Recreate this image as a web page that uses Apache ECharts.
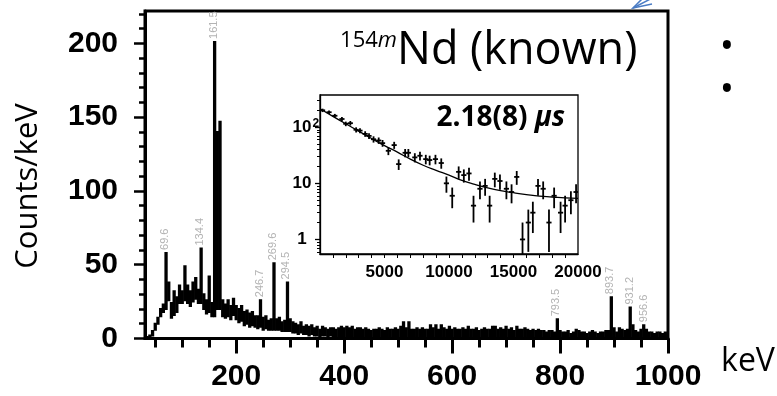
<!DOCTYPE html>
<html><head><meta charset="utf-8">
<script src="https://cdn.jsdelivr.net/npm/echarts@6/dist/echarts.min.js"></script>
<style>html,body{margin:0;padding:0;background:#fff}#c{width:777px;height:396px}</style>
</head><body><div id="c"></div>
<script>
// ---------------- data ----------------
// gamma spectrum, 5 keV bins centred at 30, 35, ... 1000 keV (counts/keV)
const binStart = 30, binWidth = 5;
const spectrumTop = [
  0,1,2,5,10,14,20,23,58,38,
  24,32,28,36,32,49,36,32,38,41,
  33,61,30,26,42,24,201,140,147,26,
  23,26,22,27,22,20,22,18,19,17,
  18,15,15,26,14,15,12,13,51,13,
  14,11,12,38,13,11,10,9,11,8,
  9,8,9,7,8,6,8,7,6,7,
  7,6,7,8,7,8,7,8,6,7,
  7,6,7,6,5,6,6,7,6,5,
  7,6,6,7,6,8,11,7,11,6,
  6,7,6,7,6,6,9,7,9,6,
  9,7,6,8,6,7,6,6,7,6,
  8,6,6,7,5,6,7,6,6,8,
  8,6,7,6,8,6,7,5,8,6,
  6,7,6,5,6,5,6,5,5,4,
  5,5,4,13,5,4,4,5,3,4,
  6,5,4,4,3,4,5,4,3,4,
  4,5,5,28,7,4,7,6,5,6,
  21,9,5,4,6,9,6,4,4,3,
  4,4,3,4,3
];
const spectrumBottom = [
  0,0,0,2,6,10,15,18,20,26,
  14,16,18,24,24,26,24,22,25,27,
  24,24,20,17,18,15,15,20,20,15,
  14,15,13,16,13,11,12,9,10,8,
  9,8,7,8,6,7,6,6,6,6,
  6,5,5,5,5,4,4,3,4,3,
  3,2,3,2,2,1,2,2,1,2,
  1,1,1,1,0,1,0,1,0,1,
  0,0,0,0,0,0,0,0,0,0,
  0,0,0,0,0,0,0,0,0,0,
  0,0,0,0,0,0,0,0,0,0,
  0,0,0,0,0,0,0,0,0,0,
  0,0,0,0,0,0,0,0,0,0,
  0,0,0,0,0,0,0,0,0,0,
  0,0,0,0,0,0,0,0,0,0,
  0,0,0,0,0,0,0,0,0,0,
  0,0,0,0,0,0,0,0,0,0,
  0,0,0,0,0,0,0,0,0,0,
  0,0,0,0,0,0,0,0,0,0,
  0,0,0,0,0
];
const peakEnergies = [69.6, 134.4, 161.5, 246.7, 269.6, 294.5, 793.5, 893.7, 931.2, 956.6];
const peakLabels   = ['69.6','134.4','161.5','246.7','269.6','294.5','793.5','893.7','931.2','956.6'];
const mainXTicks = [200, 400, 600, 800, 1000];
const mainYTicks = [0, 50, 100, 150, 200];

// inset: time spectrum (ns) with Poisson errors
const decayTimes = [200,700,1150,1700,2000,2350,2800,3100,3500,3800,4150,4550,4850,5300,5750,6100,6600,6850,7350,7750,8200,8500,8950,9400,9800,10250,10750,11150,11550,11900,12400,12800,13150,13550,13950,14450,14850,15250,15700,16150,16500,16900,17300,17750,18150,18650,19000,19450,19850];
const decayCounts = [200,185,160,140,115,118,90,87,76,70,61,58,52,38,48,22,35,35,29,31,27,26,27,23,10,6,16,14,15,4,8,9,4,12,11,8,7,13,1,2,3,9,8,2,6,3,4,5,7];
const decayErrors = [14,13.6,12.6,11.8,10.7,10.9,9.5,9.3,8.7,8.4,7.8,7.6,7.2,6.2,6.9,4.7,5.9,5.9,5.4,5.6,5.2,5.1,5.2,4.8,3.2,2.4,4,3.7,3.9,2,2.8,3,2,3.5,3.3,2.8,2.6,3.6,1,1.4,1.7,3,2.8,1.4,2.4,1.7,2,2.2,2.6];
const fitTimes  = [0,1000,2000,3000,4000,5000,6000,7000,8000,9000,10000,11000,12000,13000,14000,15000,16000,17000,18000,19000,20000];
const fitCounts = [213,156,115,85,63,47,36,27,21,17,14,11.3,9.6,8.3,7.4,6.8,6.3,5.9,5.7,5.5,5.4];
const insetXTicks = [5000, 10000, 15000, 20000];
const insetYTicks = [1, 10, 100];
const insetYTickLabels = ['1', '10', '10^2'];

// ---------------- chart ----------------
const TICKF = '"Liberation Sans", Arial, sans-serif';
const TEXTF = '"Open Sans", sans-serif';

const spectrumData = spectrumTop.map((v, i) => [binStart + i * binWidth, spectrumBottom[i], v]);
const peakData = peakEnergies.map(e => [e, spectrumTop[Math.round((e - binStart) / binWidth)]]);
const decayData = decayTimes.map((t, i) => [t, decayCounts[i], decayErrors[i]]);
const fitData = fitTimes.map((t, i) => [t, fitCounts[i]]);

const mainXMinor = []; for (let e = 50; e <= 950; e += 50) if (e % 200) mainXMinor.push(e);
const mainYMinor = []; for (let v = 10; v <= 220; v += 10) if (v % 50) mainYMinor.push(v);
const insetXMinor = []; for (let t = 1000; t < 20000; t += 1000) insetXMinor.push(t);
const insetYMinor = [0.6,0.7,0.8,0.9,2,3,4,5,6,7,8,9,20,30,40,50,60,70,80,90,200,300];

const chart = echarts.init(document.getElementById('c'), null, {renderer: 'canvas'});
const plain = v => String(Math.round(v));

const black = '#000';
const option = {
  animation: false,
  backgroundColor: '#fff',
  grid: [
    {left: 145, top: 11, right: 109, bottom: 57.5, show: true, borderColor: black, borderWidth: 3, backgroundColor: 'transparent'},
    {left: 320, top: 95, width: 258, height: 159, show: true, borderColor: black, borderWidth: 1.3, backgroundColor: '#fff', z: 5}
  ],
  xAxis: [
    {gridIndex: 0, type: 'value', min: 31, max: 1000, position: 'bottom',
     axisLine: {lineStyle: {color: black, width: 3}},
     axisTick: {customValues: mainXTicks, length: 15, lineStyle: {color: black, width: 3}},
     axisLabel: {customValues: mainXTicks, formatter: plain, color: black, fontSize: 30, fontWeight: 'bold', fontFamily: TICKF, margin: 23},
     splitLine: {show: false}},
    {gridIndex: 0, type: 'value', min: 31, max: 1000, position: 'bottom',
     axisLine: {show: false},
     axisTick: {customValues: mainXMinor, length: 9, lineStyle: {color: black, width: 3}},
     axisLabel: {show: false}, splitLine: {show: false}},
    {gridIndex: 1, type: 'value', min: 0, max: 20000, z: 6, position: 'bottom',
     axisLine: {lineStyle: {color: black, width: 1.3}},
     axisTick: {customValues: insetXMinor, length: 4, lineStyle: {color: black, width: 1}},
     axisLabel: {customValues: insetXTicks, formatter: plain, color: black, fontSize: 17, fontWeight: 'bold', fontFamily: TICKF, margin: 10},
     splitLine: {show: false}}
  ],
  yAxis: [
    {gridIndex: 0, type: 'value', min: 0, max: 222, position: 'left',
     axisLine: {lineStyle: {color: black, width: 3}},
     axisTick: {customValues: mainYTicks, length: 11, lineStyle: {color: black, width: 2.5}},
     axisLabel: {customValues: mainYTicks, formatter: plain, color: black, fontSize: 30, fontWeight: 'bold', fontFamily: TICKF, margin: 27},
     splitLine: {show: false}},
    {gridIndex: 0, type: 'value', min: 0, max: 222, position: 'left',
     axisLine: {show: false},
     axisTick: {customValues: mainYMinor, length: 6, lineStyle: {color: black, width: 2.5}},
     axisLabel: {show: false}, splitLine: {show: false}},
    {gridIndex: 1, type: 'log', logBase: 10, min: 0.55, max: 375, z: 6, position: 'left',
     axisLine: {lineStyle: {color: black, width: 1.3}},
     axisTick: {customValues: insetYTicks, length: 5, lineStyle: {color: black, width: 1.3}},
     axisLabel: {customValues: insetYTicks, margin: 18, align: 'center',
       formatter: function (v) {
         let k = 0, best = Infinity;
         insetYTicks.forEach((t, i) => { const d = Math.abs(Math.log10(v) - Math.log10(t)); if (d < best) { best = d; k = i; } });
         const s = insetYTickLabels[k];
         if (s.indexOf('^') >= 0) { const p = s.split('^'); return '{h|' + p[1] + '}{b|' + p[0] + '}{s|' + p[1] + '}'; }
         return '{b|' + s + '}';
       },
       rich: {
         b: {fontSize: 17, fontWeight: 'bold', fontFamily: TICKF, color: black},
         s: {fontSize: 12, fontWeight: 'bold', fontFamily: TICKF, color: black, verticalAlign: 'top', padding: [0, 0, 8, 1]},
         h: {fontSize: 12, fontWeight: 'bold', fontFamily: TICKF, color: 'rgba(0,0,0,0)', padding: [0, 1, 8, 0]}
       }},
     splitLine: {show: false}},
    {gridIndex: 1, type: 'log', logBase: 10, min: 0.55, max: 375, z: 6, position: 'left',
     axisLine: {show: false},
     axisTick: {customValues: insetYMinor, length: 3, lineStyle: {color: black, width: 1}},
     axisLabel: {show: false}, splitLine: {show: false}}
  ],
  series: [
    {type: 'custom', name: 'labels', xAxisIndex: 0, yAxisIndex: 0, z: 1, silent: true,
     data: peakData, encode: {x: 0, y: 1},
     renderItem: function (params, api) {
       const p = api.coord([api.value(0), api.value(1)]);
       return {type: 'text', x: p[0] - 1, y: p[1] - 3, rotation: Math.PI / 2,
         style: {text: peakLabels[params.dataIndex], fill: '#b3b3b3', font: '11px ' + TICKF, align: 'left', verticalAlign: 'middle'}};
     }},
    {type: 'custom', name: 'spectrum', xAxisIndex: 0, yAxisIndex: 0, z: 3, clip: true, silent: true,
     data: spectrumData, encode: {x: 0, y: [1, 2]},
     renderItem: function (params, api) {
       const e = api.value(0), lo = api.value(1), hi = api.value(2);
       const a = api.coord([e - binWidth / 2, hi]);
       const b = api.coord([e + binWidth / 2, lo]);
       const y0 = a[1] - 1, y1 = Math.max(b[1] + 1, y0 + 2.2);
       return {type: 'rect', shape: {x: a[0] - 0.3, y: y0, width: b[0] - a[0] + 0.6, height: y1 - y0}, style: {fill: black}};
     }},
    {type: 'custom', name: 'decay', xAxisIndex: 2, yAxisIndex: 2, z: 7, clip: true, silent: true,
     data: decayData, encode: {x: 0, y: 1},
     renderItem: function (params, api) {
       const t = api.value(0), n = api.value(1), er = api.value(2);
       const top = api.coord([t, n + er]);
       const bot = api.coord([t, Math.max(n - er, 0.2)]);
       const l = api.coord([t - 200, n]), r = api.coord([t + 200, n]);
       return {type: 'group', children: [
         {type: 'line', shape: {x1: top[0], y1: top[1], x2: bot[0], y2: bot[1]}, style: {stroke: black, lineWidth: 1.8}},
         {type: 'line', shape: {x1: l[0], y1: l[1], x2: r[0], y2: r[1]}, style: {stroke: black, lineWidth: 1.8}}
       ]};
     }},
    {type: 'line', name: 'fit', xAxisIndex: 2, yAxisIndex: 2, z: 7, data: fitData, smooth: true,
     symbol: 'none', lineStyle: {color: black, width: 1.3}, silent: true}
  ],
  graphic: [
    {type: 'text', z: 100, x: 397, y: 30, style: {text: '{a|154}{b|m}', align: 'right', verticalAlign: 'top', textAlign: 'right', textVerticalAlign: 'top',
      rich: {a: {font: '22px ' + TEXTF, fill: black}, b: {font: 'italic 22px ' + TEXTF, fill: black}}}},
    {type: 'text', z: 100, x: 397, y: 51, style: {text: 'Nd (known)', font: '45px ' + TEXTF, fill: black, align: 'left', verticalAlign: 'middle', textAlign: 'left', textVerticalAlign: 'middle'}},
    {type: 'text', z: 100, x: 565, y: 118, style: {text: '{a|2.18(8) }{b|μs}', align: 'right', verticalAlign: 'middle', textAlign: 'right', textVerticalAlign: 'middle',
      rich: {a: {font: 'bold 28px ' + TEXTF, fill: black}, b: {font: 'italic bold 28px ' + TEXTF, fill: black}}}},
    {type: 'text', z: 100, x: 28, y: 186, rotation: Math.PI / 2, style: {text: 'Counts/keV', font: '31px ' + TEXTF, fill: black, align: 'center', verticalAlign: 'middle', textAlign: 'center', textVerticalAlign: 'middle'}},
    {type: 'text', z: 100, x: 748, y: 362, style: {text: 'keV', font: '32px ' + TEXTF, fill: black, align: 'center', verticalAlign: 'middle', textAlign: 'center', textVerticalAlign: 'middle'}},
    {type: 'text', z: 100, x: 727, y: 48, style: {text: '•', font: '38px ' + TEXTF, fill: black, align: 'center', verticalAlign: 'middle', textAlign: 'center', textVerticalAlign: 'middle'}},
    {type: 'text', z: 100, x: 727, y: 91, style: {text: '•', font: '38px ' + TEXTF, fill: black, align: 'center', verticalAlign: 'middle', textAlign: 'center', textVerticalAlign: 'middle'}},
    {type: 'polyline', z: 100, shape: {points: [[642, -1], [633, 8], [652, 4]]}, style: {stroke: '#4a7cc4', lineWidth: 1.5, fill: null}},
    {type: 'line', z: 100, shape: {x1: 633, y1: 8, x2: 660, y2: -6}, style: {stroke: '#4a7cc4', lineWidth: 1.5}}
  ]
};
chart.setOption(option);
</script>
</body></html>
